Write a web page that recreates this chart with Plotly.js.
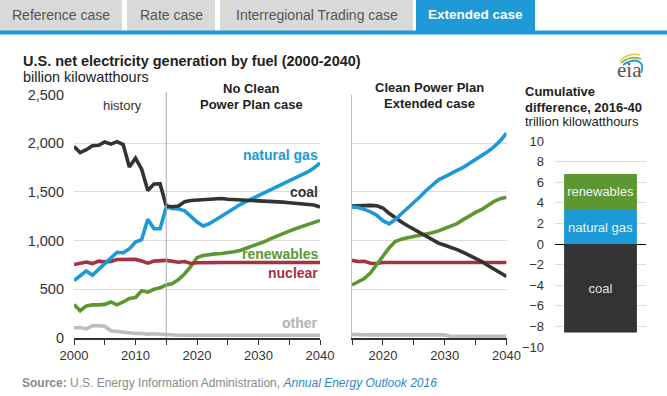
<!DOCTYPE html>
<html>
<head>
<meta charset="utf-8">
<script src="https://cdn.plot.ly/plotly-3.0.1.min.js"></script>
<style>html,body{margin:0;padding:0;background:#fff;}#chart{width:667px;height:396px;}</style>
</head>
<body>
<div id="chart"></div>
<script>
// ---------- DATA ----------
const yearsHist = [2000,2001,2002,2003,2004,2005,2006,2007,2008,2009,2010,2011,2012,2013,2014,2015];
const yearsProj = [2015,2016,2017,2018,2019,2020,2021,2022,2023,2024,2025,2026,2027,2028,2029,2030,2031,2032,2033,2034,2035,2036,2037,2038,2039,2040];

const coalHist  = [1966,1904,1933,1974,1978,2013,1991,2016,1986,1756,1847,1733,1514,1581,1582,1356];
const gasHist   = [590,635,688,645,705,761,818,880,875,915,985,1010,1220,1122,1122,1345];
const nucHist   = [754,769,780,764,789,782,787,806,806,799,807,790,769,789,797,797];
const renHist   = [345,280,330,340,340,345,370,340,370,405,415,485,470,500,515,545];
const otherHist = [105,108,95,125,125,120,75,68,60,48,47,46,40,44,44,36];

// No Clean Power Plan case (2015-2040)
const coalNo  = [1356,1348,1355,1400,1412,1415,1415,1418,1430,1432,1425,1422,1420,1418,1415,1412,1410,1405,1400,1395,1388,1382,1378,1375,1365,1345];
const gasNo   = [1345,1330,1325,1305,1248,1190,1150,1175,1212,1248,1290,1330,1370,1400,1435,1466,1492,1518,1546,1578,1607,1638,1670,1705,1745,1797];
const nucNo   = [797,790,778,785,765,772,775,775,775,775,775,775,775,775,775,775,775,775,775,775,775,775,775,775,775,775];
const renNo   = [545,560,600,660,735,825,847,858,864,868,873,885,899,920,945,968,990,1020,1048,1075,1098,1122,1145,1170,1190,1207];
const otherNo = [36,30,28,28,28,28,28,28,28,28,28,28,28,28,28,28,28,28,28,28,28,28,28,28,28,28];

// Clean Power Plan Extended case (2015-2040)
const coalCpp  = [1356,1360,1362,1362,1358,1335,1280,1230,1190,1152,1115,1078,1040,1005,974,952,933,908,880,850,822,785,745,708,670,632];
const gasCpp   = [1345,1340,1320,1295,1260,1205,1172,1215,1275,1330,1385,1450,1515,1575,1624,1655,1692,1720,1752,1790,1830,1870,1915,1965,2025,2103];
const nucCpp   = [797,785,788,768,765,775,775,775,775,775,775,775,775,775,775,775,775,775,775,775,775,775,775,775,775,775];
const renCpp   = [545,575,610,670,760,840,925,990,1015,1030,1042,1055,1065,1080,1100,1128,1148,1175,1215,1258,1290,1320,1360,1402,1430,1446];
const otherCpp = [36,32,32,32,32,32,32,32,32,32,32,32,32,32,32,32,18,18,18,18,18,18,18,18,18,18];

// Cumulative difference 2016-40 (trillion kWh)
const diffCats   = ['coal','natural gas','renewables'];
const diffValues = [-8.6, 3.3, 3.5];

const tabLabels = ['Reference case','Rate case','Interregional Trading case','Extended case'];

// ---------- STYLE ----------
const W = 667, H = 396;
const X = p => p / W;
const Y = p => 1 - p / H;
const C = {coal:'#333333', gas:'#1b9ad7', nuc:'#a33340', ren:'#5d9732', other:'#bdbdbd'};
const FONT = 'Liberation Sans, Arial, sans-serif';

function line(x, y, color, xa, ya) {
  return {type:'scatter', mode:'lines', x:x, y:y, xaxis:xa, yaxis:ya,
          line:{color:color, width:3.6}, hoverinfo:'skip', showlegend:false};
}

const traces = [
  line(yearsHist, otherHist, C.other, 'x', 'y'),
  line(yearsProj, otherNo, C.other, 'x', 'y'),
  line(yearsHist, renHist, C.ren, 'x', 'y'),
  line(yearsProj, renNo, C.ren, 'x', 'y'),
  line(yearsHist, nucHist, C.nuc, 'x', 'y'),
  line(yearsProj, nucNo, C.nuc, 'x', 'y'),
  line(yearsHist, gasHist, C.gas, 'x', 'y'),
  line(yearsProj, gasNo, C.gas, 'x', 'y'),
  line(yearsHist, coalHist, C.coal, 'x', 'y'),
  line(yearsProj, coalNo, C.coal, 'x', 'y'),

  line(yearsProj, otherCpp, C.other, 'x2', 'y2'),
  line(yearsProj, nucCpp, C.nuc, 'x2', 'y2'),
  line(yearsProj, renCpp, C.ren, 'x2', 'y2'),
  line(yearsProj, coalCpp, C.coal, 'x2', 'y2'),
  line(yearsProj, gasCpp, C.gas, 'x2', 'y2')
];

const barColors = [C.coal, C.gas, C.ren];
diffCats.forEach((c, i) => {
  traces.push({type:'bar', x:['d'], y:[diffValues[i]], xaxis:'x3', yaxis:'y3',
    marker:{color:barColors[i], line:{width:0}}, text:[c], textposition:'inside',
    insidetextanchor:'middle', textangle:0,
    textfont:{family:FONT, size:13, color: i===0 ? '#e0e0e0' : '#f2f2f2'},
    hoverinfo:'skip', showlegend:false});
});

// tabs
const tabX = [[0,122],[127,215],[220,413],[416,535]];
const shapes = [];
const ann = [];
tabLabels.forEach((t, i) => {
  const active = i === tabLabels.length - 1;
  shapes.push({type:'rect', xref:'paper', yref:'paper', x0:X(tabX[i][0]), x1:X(tabX[i][1]), y0:Y(31), y1:Y(0),
    fillcolor: active ? '#1f9ad6' : '#d9d9d9', line:{width:0}, layer:'below'});
  ann.push({xref:'paper', yref:'paper', x:X((tabX[i][0]+tabX[i][1])/2), y:Y(15), xanchor:'center', yanchor:'middle',
    text: active ? '<b>'+t+'</b>' : t, showarrow:false,
    font:{family:FONT, size: active ? 13.5 : 14, color: active ? '#ffffff' : '#555555'}});
});
shapes.push({type:'rect', xref:'paper', yref:'paper', x0:0, x1:1, y0:Y(34.5), y1:Y(30.5), fillcolor:'#1f9ad6', line:{width:0}});

// history divider at end of historical data
shapes.push({type:'line', xref:'x', yref:'paper', x0:yearsHist[yearsHist.length-1], x1:yearsHist[yearsHist.length-1],
  y0:Y(338), y1:Y(92), line:{color:'#aaaaaa', width:1}});

// eia logo swooshes
const P = (x,y) => X(x)+','+Y(y);
shapes.push({type:'path', xref:'paper', yref:'paper', path:'M'+P(620,61)+' Q'+P(629,52)+' '+P(640,55), line:{color:'#e8c53a', width:1.6}});
shapes.push({type:'path', xref:'paper', yref:'paper', path:'M'+P(621,63)+' Q'+P(631,55)+' '+P(641,59), line:{color:'#7fba42', width:1.6}});
shapes.push({type:'path', xref:'paper', yref:'paper', path:'M'+P(623,65)+' Q'+P(637,56)+' '+P(642,65)+' Q'+P(643,69)+' '+P(641,73), line:{color:'#1f9ad6', width:1.8}});

function A(text, px, pyy, opts) {
  return Object.assign({xref:'paper', yref:'paper', x:X(px), y:Y(pyy), text:text, showarrow:false,
    xanchor:'left', yanchor:'middle', font:{family:FONT, size:13, color:'#222'}}, opts||{});
}

ann.push(A('<b>U.S. net electricity generation by fuel (2000-2040)</b>', 21, 61, {font:{family:FONT, size:14.5, color:'#222'}}));
ann.push(A('billion kilowatthours', 21, 77, {font:{family:FONT, size:14.5, color:'#222'}}));
ann.push(A('history', 122, 105, {xanchor:'center', font:{family:FONT, size:13, color:'#333'}}));
ann.push(A('<b>No Clean</b>', 251, 88, {xanchor:'center'}));
ann.push(A('<b>Power Plan case</b>', 251, 104, {xanchor:'center'}));
ann.push(A('<b>Clean Power Plan</b>', 429, 87, {xanchor:'center'}));
ann.push(A('<b>Extended case</b>', 429, 103, {xanchor:'center'}));
ann.push(A('<b>Cumulative</b>', 523, 92, {font:{family:FONT, size:13, color:'#222'}}));
ann.push(A('<b>difference, 2016-40</b>', 523, 107, {font:{family:FONT, size:13, color:'#222'}}));
ann.push(A('trillion kilowatthours', 523, 121, {font:{family:FONT, size:13, color:'#222'}}));
ann.push(A('eia', 629, 70, {xanchor:'center', font:{family:'Liberation Serif, DejaVu Serif, serif', size:21, color:'#555'}}));
ann.push(A('<b>Source:</b> U.S. Energy Information Administration, <i><span style="color:#2f86c4">Annual Energy Outlook 2016</span></i>',
  20, 383, {font:{family:FONT, size:12, color:'#8a8a8a'}}));

// series labels (left panel, right-aligned at 2040)
const lbl = [['natural gas', 1883, C.gas], ['coal', 1502, C.coal], ['renewables', 864, C.ren], ['nuclear', 669, C.nuc], ['other', 154, '#b3b3b3']];
lbl.forEach(l => ann.push({xref:'x', yref:'y', x:yearsProj[yearsProj.length-1], y:l[1], xanchor:'right', yanchor:'middle',
  text:'<b>'+l[0]+'</b>', showarrow:false, font:{family:FONT, size:14, color:l[2]}}));

const tickFont = {family:FONT, size:13, color:'#333'};
const xCommon = {showgrid:false, zeroline:false, showline:true, linecolor:'#333', linewidth:1.5,
  ticks:'outside', ticklen:5, tickcolor:'#333', tickwidth:1, tickfont:tickFont, fixedrange:true};

const layout = {
  width:W, height:H, margin:{l:0, r:0, t:0, b:0}, paper_bgcolor:'#fff', plot_bgcolor:'rgba(0,0,0,0)',
  showlegend:false, barmode:'relative', bargap:0.2, font:{family:FONT},
  xaxis: Object.assign({}, xCommon, {domain:[X(74), X(320)], range:[2000,2040], anchor:'y', tick0:2000, dtick:10,
    minor:{tick0:2000, dtick:5, ticks:'outside', ticklen:5, tickcolor:'#333', showgrid:false}}),
  yaxis: {domain:[Y(338), Y(94.5)], range:[0,2500], anchor:'x', dtick:500, tickformat:',d', showgrid:true,
    gridcolor:'#dcdcdc', gridwidth:1, zeroline:false, showline:false, ticks:'', ticklabelstandoff:9,
    tickfont:{family:FONT, size:14.5, color:'#333'}, fixedrange:true},
  xaxis2: Object.assign({}, xCommon, {domain:[X(352), X(506.5)], range:[2015,2040], anchor:'y2', tick0:2020, dtick:10,
    minor:{tick0:2015, dtick:5, ticks:'outside', ticklen:5, tickcolor:'#333', showgrid:false}}),
  yaxis2: {domain:[Y(338), Y(94.5)], range:[0,2500], anchor:'x2', dtick:500, showticklabels:false, showgrid:true,
    gridcolor:'#dcdcdc', zeroline:false, showline:true, linecolor:'#bbbbbb', linewidth:1, ticks:'', fixedrange:true},
  xaxis3: {domain:[X(555), X(646)], anchor:'y3', type:'category', showticklabels:false, showgrid:false,
    zeroline:false, showline:false, ticks:'', fixedrange:true},
  yaxis3: {domain:[Y(347), Y(141)], range:[-10,10], anchor:'x3', dtick:2, showgrid:true, gridcolor:'#dcdcdc',
    zeroline:true, zerolinecolor:'#000', zerolinewidth:1, showline:false, ticks:'', ticklabelstandoff:10,
    tickfont:{family:FONT, size:13, color:'#333'}, fixedrange:true},
  shapes: shapes,
  annotations: ann
};

Plotly.newPlot('chart', traces, layout, {staticPlot:true, displayModeBar:false});
</script>
</body>
</html>
